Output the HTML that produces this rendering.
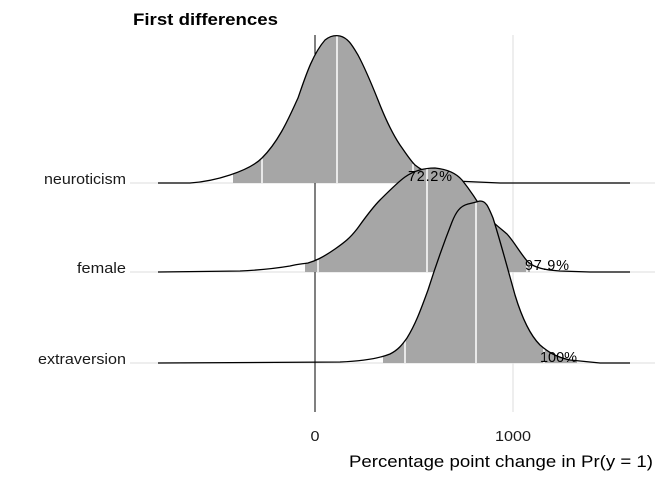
<!DOCTYPE html>
<html><head><meta charset="utf-8"><style>body{margin:0;background:#fff}svg{display:block;font-family:"Liberation Sans",Arial,sans-serif}</style></head><body>
<svg width="672" height="480" viewBox="0 0 672 480">
<defs>
<clipPath id="cn"><rect x="233" y="0" width="222" height="480"/></clipPath>
<clipPath id="cf"><rect x="305" y="0" width="225" height="480"/></clipPath>
<clipPath id="ce"><rect x="383" y="0" width="194" height="480"/></clipPath>
</defs>
<g stroke="#e3e3e3" stroke-width="1.2">
<line x1="130" y1="183" x2="655" y2="183"/>
<line x1="130" y1="272" x2="655" y2="272"/>
<line x1="130" y1="363" x2="655" y2="363"/>
<line x1="513" y1="35" x2="513" y2="412"/>
</g>
<line x1="315" y1="35" x2="315" y2="412" stroke="#000" stroke-width="1"/>
<g>
<path clip-path="url(#cn)" fill="#a6a6a6" d="M158,183 L190,183 C205,182 218,179 230,175 C245,170 255,165 262,158 C280,140 290,115 298,98 C305,78 312,55 325,40 C330,36 335,35 340,36 C348,38 352,45 358,55 C366,70 372,85 378,100 C385,118 392,133 400,145 C405,152 410,160 415,165 C425,173 438,178 455,181 L500,183 L630,183 Z"/>
<g stroke="#fff" stroke-width="1.5"><line x1="262" y1="183" x2="262" y2="158"/><line x1="337" y1="183" x2="337" y2="36"/><line x1="413" y1="183" x2="413" y2="164"/></g>
<path fill="none" stroke="#000" stroke-width="1.3" d="M158,183 L190,183 C205,182 218,179 230,175 C245,170 255,165 262,158 C280,140 290,115 298,98 C305,78 312,55 325,40 C330,36 335,35 340,36 C348,38 352,45 358,55 C366,70 372,85 378,100 C385,118 392,133 400,145 C405,152 410,160 415,165 C425,173 438,178 455,181 L500,183 L630,183"/>
</g>
<g>
<path fill="#a6a6a6" clip-path="url(#cf)" d="M158,272 L240,271 C262,270 278,268 290,266 C298,264 302,264 308,263 C315,261 322,258 335,249 C345,242 350,238 357,229 C365,218 372,208 380,200 C390,190 398,182 405,177 C415,170 425,168 435,168 C445,169 455,172 462,180 C470,190 478,202 485,214 C492,222 500,228 507,234 C515,243 520,253 528,262 C535,268 545,270 560,271 L590,272 L630,272 Z"/>
<g stroke="#fff" stroke-width="1.5"><line x1="318" y1="272" x2="318" y2="260"/><line x1="427" y1="272" x2="427" y2="168"/><line x1="527" y1="272" x2="527" y2="262"/></g>
<path fill="none" stroke="#000" stroke-width="1.3" d="M158,272 L240,271 C262,270 278,268 290,266 C298,264 302,264 308,263 C315,261 322,258 335,249 C345,242 350,238 357,229 C365,218 372,208 380,200 C390,190 398,182 405,177 C415,170 425,168 435,168 C445,169 455,172 462,180 C470,190 478,202 485,214 C492,222 500,228 507,234 C515,243 520,253 528,262 C535,268 545,270 560,271 L590,272 L630,272"/>
</g>
<g>
<path fill="#a6a6a6" clip-path="url(#ce)" d="M158,363 L340,362 C365,361 380,358 390,354 C398,350 402,345 407,338 C415,325 420,312 428,290 C435,268 443,245 452,222 C456,212 460,206 468,204 C473,203 476,202 480,201 C486,201 488,206 493,218 C500,240 508,270 515,295 C522,318 530,335 540,345 C548,352 556,357 570,360 L600,363 L630,363 Z"/>
<g stroke="#fff" stroke-width="1.5"><line x1="405" y1="363" x2="405" y2="341"/><line x1="476" y1="363" x2="476" y2="202"/><line x1="544" y1="363" x2="544" y2="348"/></g>
<path fill="none" stroke="#000" stroke-width="1.3" d="M158,363 L340,362 C365,361 380,358 390,354 C398,350 402,345 407,338 C415,325 420,312 428,290 C435,268 443,245 452,222 C456,212 460,206 468,204 C473,203 476,202 480,201 C486,201 488,206 493,218 C500,240 508,270 515,295 C522,318 530,335 540,345 C548,352 556,357 570,360 L600,363 L630,363"/>
</g>
<g font-size="14.5" fill="#000" lengthAdjust="spacingAndGlyphs">
<text x="408" y="181" textLength="44">72.2%</text>
<text x="525" y="270" textLength="44">97.9%</text>
<text x="540" y="362" textLength="37">100%</text>
</g>
<g font-size="14.5" fill="#1a1a1a">
<text x="44" y="184" textLength="82" lengthAdjust="spacingAndGlyphs">neuroticism</text>
<text x="77" y="273" textLength="49" lengthAdjust="spacingAndGlyphs">female</text>
<text x="38" y="364" textLength="88" lengthAdjust="spacingAndGlyphs">extraversion</text>
</g>
<g font-size="14.5" fill="#1a1a1a">
<text x="310.5" y="441" textLength="9" lengthAdjust="spacingAndGlyphs">0</text>
<text x="495" y="441" textLength="36" lengthAdjust="spacingAndGlyphs">1000</text>
</g>
<text x="349" y="467" font-size="17" textLength="304" lengthAdjust="spacingAndGlyphs" fill="#000">Percentage point change in Pr(y = 1)</text>
<text x="133" y="25" font-size="17" font-weight="bold" textLength="145" lengthAdjust="spacingAndGlyphs" fill="#000">First differences</text>
</svg>
</body></html>
